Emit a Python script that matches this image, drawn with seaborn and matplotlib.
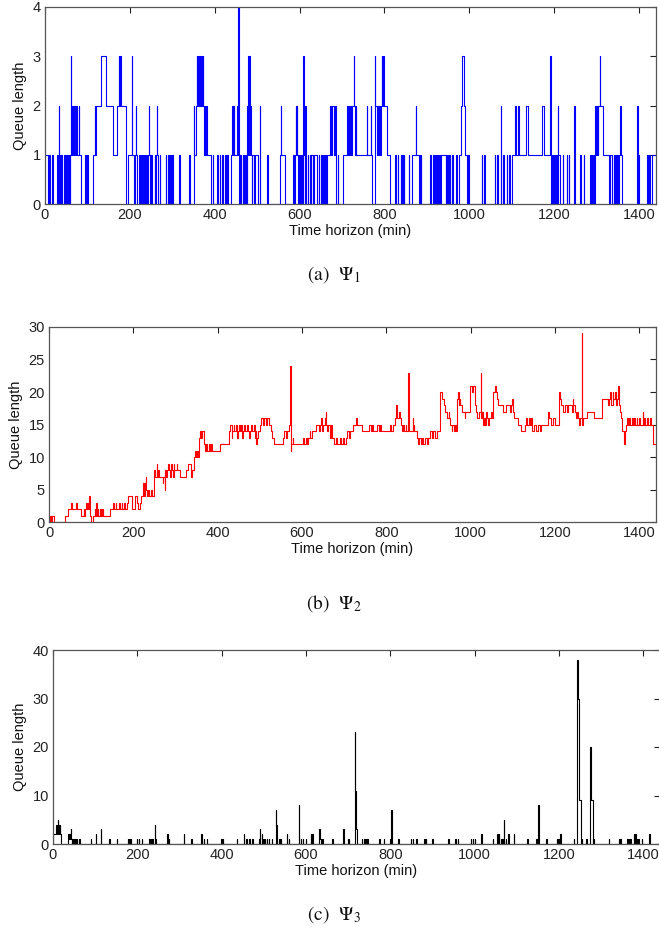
import numpy as np
import pandas as pd
import matplotlib
matplotlib.use("Agg")
import matplotlib.pyplot as plt
import seaborn as sns

# ---------------- data (change points: (minute, queue length)) ----------------
horizon_end = 1440

psi1_changes = [
    (0,1),(8,0),(10,1),(11,0),(17,1),(18,0),(28,1),(30,0),(33,2),(34,0),(35,1),(37,0),(38,1),(41,0),(44,1),(46,0),
    (48,1),(50,0),(52,1),(54,0),(56,1),(58,0),(59,1),(61,3),(62,1),(64,2),(66,1),(68,2),(70,1),(74,2),(75,1),(80,2),
    (81,1),(86,0),(94,1),(97,0),(100,1),(101,0),(112,1),(117,2),(118,1),(120,2),(131,3),(143,2),(160,1),(170,2),
    (174,3),(175,2),(177,3),(178,2),(190,1),(192,0),(196,1),(205,3),(206,1),(210,0),(212,1),(214,2),(215,1),(216,0),
    (222,1),(224,0),(227,1),(228,0),(230,1),(232,0),(234,1),(236,0),(237,1),(239,0),(240,1),(241,0),(243,1),(244,2),
    (245,1),(247,0),(250,1),(252,0),(259,1),(260,0),(262,1),(263,2),(264,1),(266,0),(270,1),(272,0),(285,1),(286,0),
    (290,1),(292,0),(294,1),(298,0),(300,1),(301,0),(316,1),(317,0),(340,1),(341,0),(350,2),(352,1),(356,2),(358,3),
    (359,2),(361,3),(363,2),(365,3),(367,2),(369,3),(370,2),(372,3),(373,2),(375,1),(377,2),(378,1),(380,2),(381,1),
    (392,0),(395,1),(397,0),(405,1),(407,0),(412,1),(413,0),(418,1),(420,0),(425,1),(426,0),(430,1),(431,0),(438,1),
    (440,2),(443,1),(445,2),(446,1),(452,2),(454,1),(455,2),(456,4),(457,0),(460,1),(461,0),(466,1),(467,0),(470,1),
    (471,0),(473,1),(475,0),(476,1),(477,2),(478,1),(479,3),(480,1),(481,3),(482,1),(484,2),(485,1),(487,0),(488,1),
    (492,0),(494,1),(502,0),(506,2),(507,0),(524,1),(526,0),(553,1),(556,2),(557,1),(565,0),(585,1),(587,0),(589,1),
    (591,2),(592,1),(594,2),(595,1),(597,0),(599,1),(601,0),(603,1),(605,0),(607,1),(609,3),(610,1),(612,0),(613,2),
    (614,1),(616,0),(619,1),(621,0),(624,1),(626,0),(628,1),(631,0),(633,1),(640,0),(645,1),(646,0),(650,1),(652,0),
    (655,1),(657,0),(660,1),(662,0),(664,1),(672,2),(675,1),(677,2),(681,1),(683,2),(685,0),(690,1),(691,0),(703,1),
    (712,2),(714,1),(715,2),(717,1),(718,2),(720,1),(721,2),(722,1),(723,2),(728,3),(729,2),(730,1),(733,2),(734,1),
    (759,2),(760,1),(768,2),(769,1),(771,0),(777,3),(778,2),(782,1),(784,2),(786,1),(788,2),(790,1),(792,2),(794,3),
    (795,2),(797,3),(798,2),(806,1),(814,0),(826,1),(827,0),(832,1),(833,0),(838,1),(840,0),(842,1),(843,0),(846,1),
    (847,0),(858,1),(859,0),(866,1),(874,2),(875,1),(882,0),(883,1),(884,0),(886,1),(887,0),(908,1),(909,0),(915,1),
    (916,0),(920,1),(922,0),(925,1),(926,0),(929,1),(930,0),(934,1),(944,0),(946,1),(947,0),(950,1),(951,0),(954,1),
    (955,0),(960,1),(961,0),(968,1),(970,0),(975,1),(980,2),(982,3),(988,2),(990,1),(995,0),(997,1),(1000,0),(1030,1),
    (1031,0),(1034,1),(1036,0),(1060,1),(1061,0),(1066,1),(1068,0),(1074,2),(1075,0),(1080,1),(1081,0),(1088,1),
    (1089,0),(1094,1),(1096,0),(1100,1),(1108,2),(1109,1),(1115,2),(1116,1),(1133,2),(1138,1),(1171,2),(1177,1),
    (1191,3),(1192,0),(1194,1),(1196,0),(1198,1),(1199,0),(1201,1),(1203,0),(1205,1),(1207,0),(1209,2),(1210,1),
    (1213,0),(1220,1),(1221,0),(1230,1),(1231,0),(1235,1),(1236,0),(1247,2),(1248,1),(1250,0),(1262,1),(1263,0),
    (1270,1),(1271,0),(1284,1),(1286,0),(1288,1),(1290,0),(1292,1),(1294,0),(1297,2),(1298,1),(1301,2),(1303,1),
    (1304,2),(1308,3),(1309,2),(1316,1),(1330,0),(1332,1),(1336,0),(1340,1),(1341,0),(1344,1),(1346,0),(1348,1),
    (1350,0),(1352,1),(1356,2),(1357,1),(1360,0),(1396,2),(1397,0),(1398,1),(1399,0),(1418,1),(1420,0),(1424,1),
    (1425,0),(1430,1),
]

psi2_changes = [
    (0,0),(2,1),(5,0),(8,1),(12,0),(38,1),(46,2),(53,3),(55,2),(65,3),(67,2),(77,1),(82,2),(84,1),(86,2),(88,3),
    (90,2),(92,3),(94,2),(96,4),(97,3),(98,1),(99,0),(105,1),(108,2),(109,1),(112,3),(113,1),(116,2),(117,1),(120,2),
    (121,1),(124,2),(125,1),(128,2),(129,1),(145,2),(152,3),(154,2),(158,3),(160,2),(166,3),(168,2),(172,3),(174,2),
    (178,3),(180,2),(186,3),(188,4),(198,2),(204,4),(208,3),(211,2),(215,3),(218,4),(222,5),(224,6),(225,5),(226,4),
    (228,6),(229,7),(230,5),(232,4),(236,5),(238,4),(242,5),(244,4),(248,7),(250,8),(252,7),(256,9),(257,7),(259,8),
    (261,7),(270,6),(271,7),(275,5),(276,8),(278,7),(281,8),(283,9),(284,8),(288,7),(290,9),(291,8),(294,7),(296,9),
    (297,8),(303,9),(304,8),(310,7),(324,8),(330,9),(338,7),(340,8),(344,10),(346,11),(348,10),(352,11),(354,10),
    (356,13),(358,14),(360,13),(362,14),(368,12),(370,11),(373,12),(375,11),(380,12),(382,11),(384,12),(386,11),
    (405,12),(428,14),(430,15),(433,13),(434,14),(438,15),(440,14),(444,15),(446,13),(448,14),(450,15),(452,14),
    (455,15),(457,14),(459,13),(460,14),(463,15),(465,14),(470,15),(472,14),(475,13),(476,14),(480,15),(482,14),
    (486,15),(488,13),(490,14),(492,12),(494,13),(497,14),(500,15),(504,16),(507,15),(511,16),(514,15),(518,16),
    (521,15),(526,14),(530,13),(534,12),(556,13),(558,14),(562,13),(565,14),(570,15),(572,24),(573,11),(574,12),
    (578,13),(580,12),(603,13),(606,12),(609,13),(612,12),(614,13),(618,14),(620,13),(625,14),(634,15),(640,14),
    (642,15),(646,16),(648,14),(650,15),(654,16),(656,17),(658,15),(660,14),(663,15),(666,13),(669,15),(672,13),
    (676,12),(680,13),(683,12),(690,13),(692,12),(697,13),(699,12),(704,13),(708,14),(712,13),(715,14),(720,15),
    (729,16),(731,15),(743,14),(759,15),(763,14),(767,15),(768,14),(779,15),(783,14),(785,15),(787,14),(808,15),
    (812,14),(816,15),(820,16),(824,18),(825,16),(830,17),(832,16),(834,15),(838,14),(840,15),(842,14),(846,15),
    (848,14),(852,23),(853,18),(854,14),(863,16),(864,14),(866,15),(867,14),(873,13),(876,12),(878,13),(882,12),
    (885,13),(888,12),(892,13),(896,12),(900,13),(905,14),(908,13),(912,14),(916,13),(920,14),(928,20),(932,19),
    (936,18),(940,17),(944,16),(948,17),(950,16),(952,15),(955,14),(957,15),(960,14),(962,15),(966,14),(968,19),
    (970,20),(972,18),(974,19),(976,18),(980,17),(986,16),(988,17),(999,21),(1004,20),(1007,21),(1010,18),(1014,17),
    (1016,16),(1020,17),(1024,23),(1025,16),(1028,17),(1030,15),(1032,16),(1034,15),(1036,17),(1038,16),(1042,15),
    (1044,16),(1048,17),(1050,16),(1054,20),(1057,21),(1061,20),(1063,19),(1066,18),(1078,17),(1085,18),(1094,17),
    (1097,18),(1099,19),(1100,17),(1104,16),(1112,15),(1120,14),(1130,15),(1132,16),(1134,15),(1138,16),(1140,15),
    (1144,16),(1146,14),(1150,15),(1155,14),(1160,15),(1164,14),(1166,15),(1183,17),(1185,16),(1190,15),(1195,16),
    (1200,15),(1209,18),(1211,20),(1212,19),(1215,18),(1220,17),(1224,18),(1230,17),(1232,18),(1240,17),(1242,19),
    (1243,18),(1248,17),(1250,16),(1253,17),(1255,16),(1258,15),(1260,16),(1264,29),(1265,15),(1268,16),(1276,17),
    (1294,16),(1313,19),(1326,18),(1329,19),(1332,20),(1334,18),(1337,20),(1339,19),(1342,20),(1345,18),(1348,19),
    (1351,21),(1352,18),(1354,17),(1357,16),(1360,14),(1363,13),(1365,12),(1366,14),(1369,15),(1372,16),(1374,15),
    (1377,16),(1379,15),(1382,16),(1385,15),(1388,16),(1390,15),(1394,16),(1396,15),(1400,16),(1402,15),(1408,17),
    (1409,15),(1412,16),(1415,15),(1419,16),(1421,15),(1425,16),(1427,15),(1433,12),
]

psi3_changes = [
    (0,0),(1,2),(8,4),(9,2),(12,5),(13,4),(14,2),(16,4),(17,2),(20,0),(36,2),(39,1),(40,2),(42,3),(43,1),(44,0),
    (46,1),(47,0),(48,1),(50,0),(53,1),(54,0),(57,1),(58,0),(62,1),(63,0),(89,1),(90,0),(101,2),(102,0),(113,3),
    (114,1),(115,0),(134,1),(135,0),(152,1),(153,0),(178,1),(179,0),(181,1),(183,0),(185,1),(186,0),(199,1),(200,0),
    (203,1),(204,0),(210,1),(211,0),(228,1),(229,0),(233,1),(234,0),(236,1),(237,0),(242,4),(243,1),(244,0),(271,2),
    (272,0),(275,1),(276,0),(310,2),(311,0),(328,1),(329,0),(352,2),(353,0),(358,1),(359,0),(365,1),(366,0),(399,1),
    (400,0),(403,1),(404,0),(436,1),(437,0),(453,2),(454,0),(459,1),(460,0),(466,1),(467,0),(473,1),(474,0),(488,1),
    (490,3),(491,1),(492,0),(495,2),(496,0),(499,1),(500,0),(503,1),(504,0),(507,1),(508,0),(512,1),(513,0),(519,1),
    (520,0),(529,7),(530,4),(531,0),(537,1),(538,0),(541,1),(542,0),(555,2),(556,0),(560,1),(561,0),(583,8),(584,0),
    (588,1),(589,0),(593,1),(594,0),(600,1),(601,0),(612,2),(613,0),(615,2),(616,0),(632,3),(633,2),(634,1),(636,0),
    (639,1),(640,0),(663,1),(664,0),(689,3),(691,0),(699,1),(700,0),(702,1),(703,0),(716,23),(717,11),(719,3),
    (721,0),(733,1),(734,0),(738,1),(739,0),(742,1),(743,0),(746,1),(747,0),(774,1),(775,0),(785,1),(786,0),(800,1),
    (801,0),(803,7),(805,0),(819,1),(820,0),(849,1),(850,0),(853,1),(854,0),(862,1),(863,0),(881,1),(882,0),(884,1),
    (885,0),(900,1),(901,0),(938,1),(939,0),(954,1),(955,0),(960,1),(961,0),(991,1),(992,0),(996,1),(997,0),(1001,1),
    (1002,0),(1016,2),(1017,0),(1044,1),(1045,0),(1054,2),(1055,0),(1058,2),(1059,0),(1062,1),(1063,0),(1066,1),
    (1067,0),(1069,5),(1070,1),(1071,0),(1074,1),(1075,0),(1080,2),(1081,0),(1093,2),(1094,0),(1125,1),(1126,0),
    (1147,1),(1148,0),(1151,8),(1152,0),(1170,1),(1171,0),(1195,1),(1196,0),(1199,1),(1200,0),(1203,2),(1205,1),
    (1206,0),(1235,1),(1236,0),(1244,38),(1245,30),(1247,18),(1249,9),(1253,0),(1255,1),(1256,0),(1265,1),(1266,0),
    (1273,20),(1276,9),(1280,0),(1282,1),(1283,0),(1318,1),(1319,0),(1342,1),(1343,0),(1346,1),(1347,0),(1362,1),
    (1363,0),(1365,1),(1366,0),(1370,1),(1371,0),(1378,2),(1379,0),(1381,2),(1382,0),(1385,1),(1386,0),(1388,1),
    (1389,0),(1397,1),(1398,0),(1415,2),(1416,0),
]

x_ticks = [0, 200, 400, 600, 800, 1000, 1200, 1400]
y_ticks_psi1 = [0, 1, 2, 3, 4]
y_ticks_psi2 = [0, 5, 10, 15, 20, 25, 30]
y_ticks_psi3 = [0, 10, 20, 30, 40]
captions = ["(a)  $\\Psi_1$", "(b)  $\\Psi_2$", "(c)  $\\Psi_3$"]
x_label = "Time horizon (min)"
y_label = "Queue length"

# ---------------- style ----------------
sns.set_theme(style="white")
plt.rcParams['font.family'] = ['Liberation Sans', 'DejaVu Sans']
plt.rcParams['mathtext.fontset'] = 'stix'

W, H = 659, 931
fig = plt.figure(figsize=(W / 100, H / 100), dpi=100)


def rect(left, top, right, bottom):
    return [left / W, 1 - bottom / H, (right - left) / W, (bottom - top) / H]


panels = [
    dict(changes=psi1_changes, yticks=y_ticks_psi1, color="#0000ff",
         box=rect(45, 7, 656, 204), cap_y=275),
    dict(changes=psi2_changes, yticks=y_ticks_psi2, color="#ff0000",
         box=rect(49, 327, 656, 522), cap_y=604),
    dict(changes=psi3_changes, yticks=y_ticks_psi3, color="#000000",
         box=rect(53, 650, 660, 844), cap_y=915),
]

for i, p in enumerate(panels):
    ax = fig.add_axes(p["box"])
    t, q = zip(*p["changes"])
    df = pd.DataFrame({"t": list(t) + [horizon_end], "q": list(q) + [q[-1]]})
    sns.lineplot(data=df, x="t", y="q", ax=ax, color=p["color"], linewidth=0.8,
                 drawstyle="steps-post", estimator=None, sort=False)
    ax.set_xlim(0, horizon_end)
    ax.set_ylim(p["yticks"][0], p["yticks"][-1])
    ax.set_xticks(x_ticks)
    ax.set_yticks(p["yticks"])
    ax.tick_params(direction="in", length=4, width=0.8, top=True, right=True,
                   labelsize=10.5, colors="#222222", pad=3)
    for sp in ax.spines.values():
        sp.set_color("#555555")
        sp.set_linewidth(0.9)
    ax.set_xlabel(x_label, fontsize=10.5, labelpad=1, color="#111111")
    ax.set_ylabel(y_label, fontsize=10.5, labelpad=4, color="#111111")
    fig.text(334 / W, 1 - p["cap_y"] / H, captions[i], ha="center", va="center",
             fontsize=14, family="STIXGeneral", color="#111111")

fig.savefig("out.png", dpi=100)
